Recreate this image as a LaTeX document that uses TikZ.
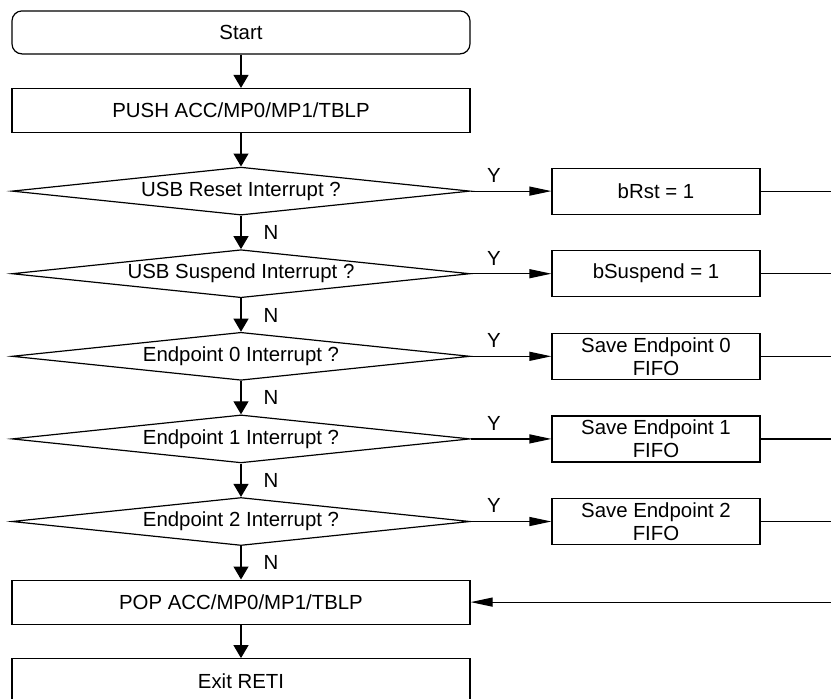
\documentclass[tikz,border=0pt]{standalone}
\usepackage{fontspec}
\setmainfont{Liberation Sans}
\usetikzlibrary{arrows.meta, positioning, shapes.geometric}

\begin{document}
\begin{tikzpicture}[
  x=1pt, y=1pt,
  font=\fontsize{10.2}{11.5}\selectfont,
  line width=0.6pt,
  every node/.style={inner sep=0pt},
  terminal/.style={rectangle, draw, rounded corners=5pt, minimum width=229pt, minimum height=21.5pt},
  process/.style={rectangle, draw, minimum width=229pt, minimum height=22pt},
  decision/.style={diamond, draw, aspect=9.5, minimum width=229pt, minimum height=24pt},
  action/.style={rectangle, draw, align=center, minimum width=104pt, minimum height=23pt},
  flowdown/.style={-{Triangle[length=6.5pt, width=7.5pt]}},
  flowside/.style={-{Triangle[length=11pt, width=4.5pt]}},
  node distance=16.7pt and 40.4pt
]
\clip (0,0) rectangle (415.5,-349);
\coordinate (edge) at (415.5,0);

\node[terminal] (start) at (120.5,-16.2) {Start};
\node[process, below=of start] (push) {PUSH ACC/MP0/MP1/TBLP};
\node[decision, below=of push] (rstq) {USB Reset Interrupt ?};
\node[decision, below=of rstq] (suspq) {USB Suspend Interrupt ?};
\node[decision, below=of suspq] (epzq) {Endpoint 0 Interrupt ?};
\node[decision, below=of epzq] (eponeq) {Endpoint 1 Interrupt ?};
\node[decision, below=of eponeq] (eptwoq) {Endpoint 2 Interrupt ?};
\node[process, below=of eptwoq] (pop) {POP ACC/MP0/MP1/TBLP};
\node[process, below=of pop] (exit) {Exit RETI};

% actions on the Y branch
\node[action, right=of rstq] (rst) {bRst = 1};
\node[action, right=of suspq] (susp) {bSuspend = 1};
\node[action, right=of epzq] (epz) {Save Endpoint 0\\FIFO};
\node[action, right=of eponeq] (epone) {Save Endpoint 1\\FIFO};
\node[action, right=of eptwoq] (eptwo) {Save Endpoint 2\\FIFO};

\draw[flowdown] (start) -- (push);
\draw[flowdown] (push) -- (rstq);
\draw[flowdown] (rstq) -- node[right=11pt] {N} (suspq);
\draw[flowdown] (suspq) -- node[right=11pt] {N} (epzq);
\draw[flowdown] (epzq) -- node[right=11pt] {N} (eponeq);
\draw[flowdown] (eponeq) -- node[right=11pt] {N} (eptwoq);
\draw[flowdown] (eptwoq) -- node[right=11pt] {N} (pop);
\draw[flowdown] (pop) -- (exit);

\draw[flowside] (rstq) -- node[pos=0.29, above=4pt] {Y} (rst);
\draw[flowside] (suspq) -- node[pos=0.29, above=4pt] {Y} (susp);
\draw[flowside] (epzq) -- node[pos=0.29, above=4pt] {Y} (epz);
\draw[flowside] (eponeq) -- node[pos=0.29, above=4pt] {Y} (epone);
\draw[flowside] (eptwoq) -- node[pos=0.29, above=4pt] {Y} (eptwo);

\draw (rst) -- (rst -| edge);
\draw (susp) -- (susp -| edge);
\draw (epz) -- (epz -| edge);
\draw (epone) -- (epone -| edge);
\draw (eptwo) -- (eptwo -| edge);
\draw[flowside] (pop -| edge) -- (pop);
\end{tikzpicture}
\end{document}
